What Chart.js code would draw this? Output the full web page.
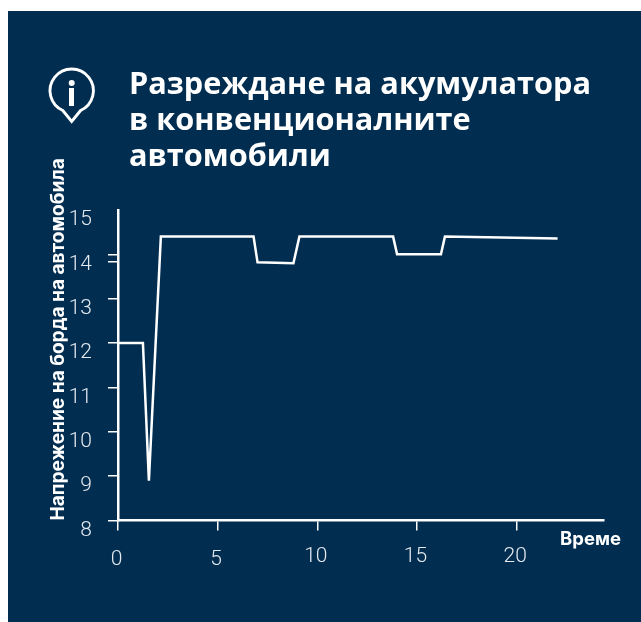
<!DOCTYPE html>
<html>
<head>
<meta charset="utf-8">
<title>Разреждане на акумулатора</title>
<script src="https://cdn.jsdelivr.net/npm/chart.js@4"></script>
<style>
  html, body { margin: 0; background: #fff; }
  #panel { position: absolute; left: 8px; top: 11px; width: 633px; height: 611px; background: #002d50; }
  #wrap { position: absolute; left: 0; top: 0; width: 641px; height: 622px; }
  h1 { position: absolute; left: 129px; top: 63.5px; margin: 0; color: #fff; white-space: nowrap;
       font: 700 30.7px/36.3px "Open Sans", sans-serif; }
  #xname { position: absolute; left: 560px; top: 528px; color: #fff;
           font: 700 18.5px/20px Inter, sans-serif; }
  svg { position: absolute; left: 0; top: 0; }
</style>
</head>
<body>
<div id="panel"></div>
<div id="wrap"><canvas id="chart" width="641" height="622"></canvas></div>
<svg width="641" height="622" fill="none" stroke="#fff" stroke-width="2.9">
  <path d="M62.8 110.5 A21.7 21.7 0 1 1 80.6 110.5 L71.7 121.5 Z"/>
  <circle cx="71.7" cy="83" r="3" fill="#fff" stroke="none"/>
  <rect x="69" y="88" width="5" height="18" fill="#fff" stroke="none"/>
</svg>
<h1>Разреждане на акумулатора<br>в конвенционалните<br>автомобили</h1>
<div id="xname">Време</div>
<script>
const timeValues = [0, 1.25, 1.55, 2.15, 6.8, 7.0, 8.8, 9.1, 13.8, 14.0, 16.2, 16.4, 22.05];
const voltageValues = [12.0, 12.0, 8.9, 14.4, 14.4, 13.82, 13.8, 14.4, 14.4, 14.0, 14.0, 14.4, 14.36];
const xTicks = [0, 5, 10, 15, 20];
const yTicks = [8, 9, 10, 11, 12, 13, 13.83, 14, 15];
const yAxisName = 'Напрежение на борда на автомобила';

// tick labels that sit a little lower than their neighbours
const xLabelNudge = { '0': 3, '5': 3 };

const tickColor = '#e4e9ee';
const tickFont = { family: 'Roboto, sans-serif', size: 21, weight: '300' };

const nudgeLabels = {
  id: 'nudgeLabels',
  afterLayout(chart) {
    chart.scales.x.getLabelItems().forEach(item => {
      item.options.translation[1] += xLabelNudge[item.label] || 0;
    });
  }
};

new Chart(document.getElementById('chart'), {
  type: 'line',
  data: {
    datasets: [{
      data: timeValues.map((t, i) => ({ x: t, y: voltageValues[i] })),
      borderColor: '#fff',
      borderWidth: 2.5,
      pointRadius: 0,
      tension: 0,
      clip: false
    }]
  },
  options: {
    responsive: false,
    animation: false,
    layout: { padding: { left: 47, top: 210, right: 37, bottom: 0 } },
    plugins: { legend: { display: false }, tooltip: { enabled: false } },
    scales: {
      x: {
        type: 'linear',
        min: 0,
        max: 24.38,
        afterBuildTicks: scale => { scale.ticks = xTicks.map(value => ({ value })); },
        afterFit: scale => { scale.height = 101.5; },
        border: { color: '#fff', width: 2.5 },
        grid: { drawOnChartArea: false, color: '#fff', lineWidth: 1.5, tickLength: 10 },
        ticks: { color: tickColor, font: tickFont, padding: 14, maxRotation: 0, labelOffset: -1.5 }
      },
      y: {
        type: 'linear',
        min: 8,
        max: 15,
        afterBuildTicks: scale => { scale.ticks = yTicks.map(value => ({ value })); },
        afterFit: scale => { scale.width = 71; },
        border: { color: '#fff', width: 2.5 },
        grid: {
          drawOnChartArea: false,
          // the top of the axis has a label but no tick mark
          color: ctx => ctx.tick && ctx.tick.value === 15 ? 'transparent' : '#fff',
          lineWidth: 1.5,
          tickLength: 10
        },
        title: {
          display: true,
          text: yAxisName,
          align: 'start',
          color: '#fff',
          font: { family: 'Inter, sans-serif', size: 19.1, weight: 'bold' },
          padding: 0
        },
        ticks: {
          color: tickColor,
          font: tickFont,
          padding: 16,
          labelOffset: 10,
          callback: value => Number.isInteger(value) ? String(value) : ''
        }
      }
    }
  },
  plugins: [nudgeLabels]
});
</script>
</body>
</html>
